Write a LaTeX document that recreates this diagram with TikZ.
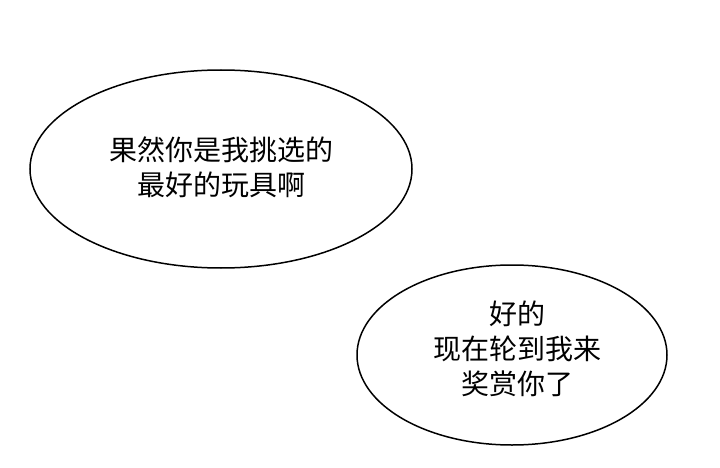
\documentclass[tikz,border=0pt]{standalone}
\usepackage{fontspec}
\setmainfont{Noto Sans CJK SC}
\begin{document}
\begin{tikzpicture}[x=1pt,y=-1pt,
  bubble/.style={draw=black,line width=1.5pt,fill=white},
  txt/.style={align=center,font=\fontsize{28}{35}\selectfont}]
\useasboundingbox[fill=white] (0,0) rectangle (720,468);
\draw[bubble] (221,169) ellipse [x radius=191, y radius=99];
\draw[bubble] (512,355) ellipse [x radius=155, y radius=90];
\node[txt] (t1) at (221,167) {果然你是我挑选的\\最好的玩具啊};
\node[txt] (t2) at (517,349) {好的\\现在轮到我来\\奖赏你了};
\end{tikzpicture}
\end{document}
